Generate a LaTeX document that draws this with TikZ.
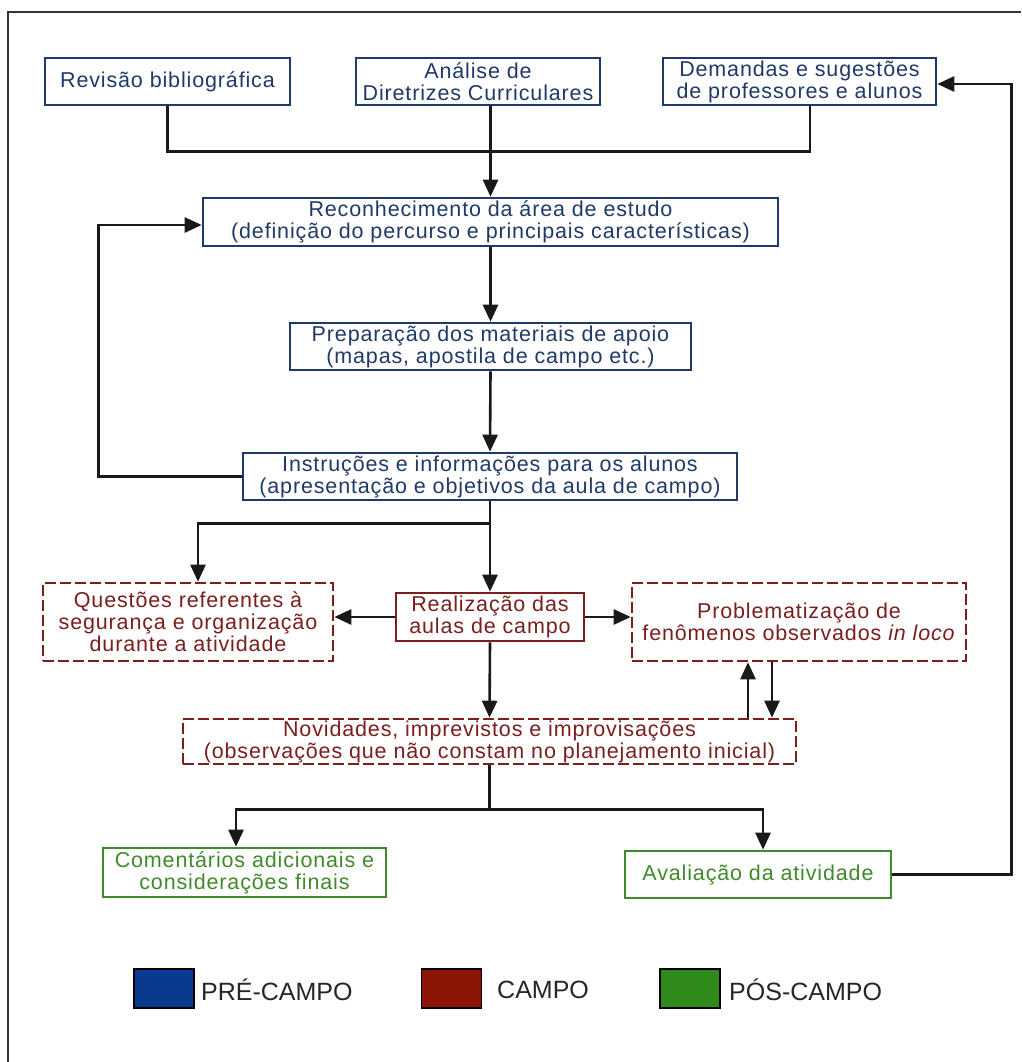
\documentclass[tikz,border=0pt]{standalone}
\usepackage{fontspec}
\setmainfont{Liberation Sans}
\newfontfamily\bxf[LetterSpace=4]{Liberation Sans}
\usetikzlibrary{arrows.meta,calc}
\definecolor{pblue}{HTML}{1F3A68}
\definecolor{pred}{HTML}{7A1E1E}
\definecolor{pgreen}{HTML}{3F8A2A}
\definecolor{lblue}{HTML}{0A3A8E}
\definecolor{lred}{HTML}{8A1406}
\definecolor{lgreen}{HTML}{2F8A1C}
\begin{document}
\begin{tikzpicture}[x=1pt,y=-1pt,
 box/.style={draw, line width=2.6pt, inner sep=0pt, align=center, font=\bxf\fontsize{21.5}{22}\selectfont},
 prebox/.style={box, draw=pblue, text=pblue},
 camsolid/.style={box, draw=pred, text=pred},
 cambox/.style={box, draw=pred, text=pred, dash pattern=on 11pt off 4pt},
 posbox/.style={box, draw=pgreen, text=pgreen},
 conn/.style={line width=2.6pt, draw=black!90},
 arr/.style={conn, -{Triangle[length=17pt,width=15pt]}},
 leg/.style={draw=black, line width=1.4pt, minimum width=60pt, minimum height=39pt, inner sep=0pt},
 legt/.style={font=\fontsize{25}{26}\selectfont, anchor=west, inner sep=0pt, text=black!85}
]
\useasboundingbox (0,0) rectangle (1021,1062);
\draw[line width=2.8pt, black!80] (1021,12) -- (8,12) -- (8,1062);

\node[prebox, minimum width=245pt, minimum height=47pt] (rev) at (167.5,81.5) {Revisão bibliográfica};
\node[prebox, minimum width=244pt, minimum height=47pt] (ana) at (478,81.5) {Análise de\\Diretrizes Curriculares};
\node[prebox, minimum width=273pt, minimum height=47pt] (dem) at (799.5,81.5) {Demandas e sugestões\\de professores e alunos};
\node[prebox, minimum width=575pt, minimum height=48pt] (rec) at (490.5,222) {Reconhecimento da área de estudo\\(definição do percurso e principais características)};
\node[prebox, minimum width=401pt, minimum height=47pt] (prep) at (490.5,346.5) {Preparação dos materiais de apoio\\(mapas, apostila de campo etc.)};
\node[prebox, minimum width=494pt, minimum height=47pt] (ins) at (490,476.5) {Instruções e informações para os alunos\\(apresentação e objetivos da aula de campo)};
\node[cambox, minimum width=290pt, minimum height=78pt] (que) at (188,622) {Questões referentes à\\segurança e organização\\durante a atividade};
\node[camsolid, minimum width=188pt, minimum height=48pt] (real) at (490,617) {Realização das\\aulas de campo};
\node[cambox, minimum width=334pt, minimum height=78pt] (prob) at (799,622) {Problematização de\\fenômenos observados \textit{in loco}};
\node[cambox, minimum width=613pt, minimum height=45pt] (nov) at (489.5,741.5) {Novidades, imprevistos e improvisações\\(observações que não constam no planejamento inicial)};
\node[posbox, minimum width=283pt, minimum height=49pt] (com) at (244.5,872.5) {Comentários adicionais e\\considerações finais};
\node[posbox, minimum width=266pt, minimum height=47pt] (ava) at (758,874.5) {Avaliação da atividade};

\draw[conn] (rev.south) -- ++(0,45) -| ($(dem.south)+(10.5,0)$);
\draw[arr] (ana.south -| rec.north) -- (rec.north);
\draw[arr] (rec.south) -- (prep.north);
\draw[arr] (prep.south) -- (ins.north);
\draw[arr] (ins.west) -- ++(-143,0) |- ($(rec.west)+(0,3)$);
\draw[conn] (ins.south) -- ++(0,22) coordinate (b1);
\draw[arr] (b1) -| ($(que.north)+(10,0)$);
\draw[arr] (b1) -- (real.north);
\draw[arr] (real.west) -- (real.west -| que.east);
\draw[arr] (real.east) -- (real.east -| prob.west);
\draw[arr] (real.south) -- (nov.north);
\draw[arr] ($(nov.north)+(258.5,0)$) coordinate (u1) -- (u1 |- prob.south);
\draw[arr] ($(prob.south)+(-27,0)$) coordinate (d1) -- (d1 |- nov.north);
\draw[conn] (nov.south) -- ++(0,44) coordinate (b2);
\draw[arr] (b2) -| ($(com.north)+(-8.5,0)$);
\draw[arr] (b2) -| ($(ava.north)+(5,0)$);
\draw[arr] (ava.east) -- ++(119,0) |- ($(dem.east)+(0,2.5)$);

\node[leg, fill=lblue] (lb) at (164,988.5) {};
\node[legt] (lbt) at (201,990) {PRÉ-CAMPO};
\node[leg, fill=lred] (lr) at (451.5,988.5) {};
\node[legt] (lrt) at (497,990) {CAMPO};
\node[leg, fill=lgreen] (lg) at (690,988.5) {};
\node[legt] (lgt) at (729,990) {PÓS-CAMPO};
\end{tikzpicture}
\end{document}
